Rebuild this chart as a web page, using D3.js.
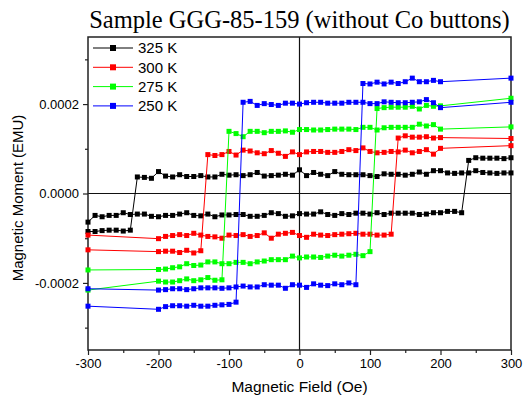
<!DOCTYPE html>
<html lang="en">
<head>
<meta charset="UTF-8">
<title>GGG-85-159 hysteresis</title>
<script src="https://cdn.jsdelivr.net/npm/d3@7"></script>
<style>
  body { margin: 0; background: #fff; }
  svg { display: block; font-family: "Liberation Sans", Arial, sans-serif; }
</style>
</head>
<body>
<script>
// field sweeps (Oe); 325 K was swept in 10 Oe steps over the full range
const fieldsFull = [-300, -290, -280, -270, -260, -250, -240, -230, -220, -210,
  -200, -190, -180, -170, -160, -150, -140, -130, -120, -110,
  -100, -90, -80, -70, -60, -50, -40, -30, -20, -10,
  0, 10, 20, 30, 40, 50, 60, 70, 80, 90,
  100, 110, 120, 130, 140, 150, 160, 170, 180, 190,
  200, 210, 220, 230, 240, 250, 260, 270, 280, 290, 300];
const fieldsSparse = [-300,
  -200, -190, -180, -170, -160, -150, -140, -130, -120, -110,
  -100, -90, -80, -70, -60, -50, -40, -30, -20, -10,
  0, 10, 20, 30, 40, 50, 60, 70, 80, 90,
  100, 110, 120, 130, 140, 150, 160, 170, 180, 190,
  200, 300];

// moments in micro-EMU, listed in increasing field order
// "Down" = branch swept from +300 to -300, "Up" = from -300 to +300
const m325Down = [-85, -85, -83, -82, -82, -84, -82, 37, 36, 34,
  49, 39, 37, 42, 38, 38, 40, 37, 37, 43,
  41, 42, 40, 42, 47, 39, 40, 41, 43, 41,
  53, 40, 47, 43, 40, 49, 43, 42, 42, 42,
  40, 38, 44, 43, 43, 41, 43, 48, 43, 51,
  51, 46, 45, 46, 46, 51, 47, 46, 45, 46, 46];
const m325Up = [-64, -49, -52, -49, -49, -43, -47, -46, -46, -51,
  -52, -49, -49, -46, -43, -49, -50, -46, -52, -48,
  -48, -47, -47, -51, -51, -49, -43, -45, -51, -50,
  -45, -46, -46, -41, -47, -49, -45, -47, -44, -44,
  -46, -43, -47, -44, -44, -44, -44, -47, -46, -43,
  -43, -40, -40, -43, 74, 80, 79, 79, 79, 78, 80];

const m300Down = [-126,
  -130, -129, -129, -132, -127, -133, -128, 87, 85, 87,
  94, 86, 97, 95, 91, 89, 96, 90, 83, 93,
  87, 93, 94, 94, 92, 92, 94, 98, 96, 102,
  94, 91, 92, 94, 93, 97, 91, 94, 98, 88,
  101, 107];
const m300Up = [-93,
  -101, -96, -94, -92, -94, -89, -93, -96, -97, -100,
  -93, -94, -92, -96, -94, -88, -100, -91, -89, -87,
  -94, -98, -91, -93, -94, -92, -91, -90, -89, -91,
  -91, -93, -93, -91, 124, 129, 126, 126, 127, 124,
  125, 123];

const m275Down = [-216,
  -196, -198, -198, -195, -191, -195, -193, -188, -194, -193,
  139, 134, 127, 139, 139, 136, 139, 139, 140, 137,
  143, 143, 142, 142, 143, 144, 144, 144, 143, 148,
  148, 142, 147, 148, 148, 148, 148, 155, 151, 154,
  144, 149];
const m275Up = [-171,
  -170, -169, -166, -164, -157, -161, -160, -153, -153, -157,
  -157, -154, -154, -157, -153, -151, -148, -148, -148, -140,
  -144, -142, -142, -143, -140, -138, -140, -138, -136, -139,
  -130, 190, 192, 193, 193, 193, 195, 189, 197, 195,
  196, 213];

const m250Down = [-252,
  -259, -253, -251, -251, -252, -250, -252, -252, -250, -249,
  -248, -243, 204, 206, 197, 201, 199, 197, 202, 202,
  200, 203, 204, 204, 202, 202, 202, 204, 204, 204,
  201, 201, 205, 204, 203, 203, 204, 205, 210, 203,
  192, 204];
const m250Up = [-213,
  -216, -215, -213, -213, -215, -213, -211, -211, -211, -212,
  -211, -209, -207, -209, -209, -204, -205, -205, -212, -204,
  -205, -210, -202, -205, -206, -202, -204, -200, -204, 246,
  245, 249, 245, 249, 246, 250, 258, 250, 250, 253,
  250, 258];

const seriesNames = ["325 K", "300 K", "275 K", "250 K"];
const seriesColors = ["#000000", "#ff0000", "#00ff00", "#0000ff"];

const xTicks = [-300, -200, -100, 0, 100, 200, 300];
const xMinorTicks = [-250, -150, -50, 50, 150, 250];
const yTicks = [-0.0002, 0, 0.0002];
const yMinorTicks = [-0.0003, -0.0001, 0.0001, 0.0003];

const width = 529, height = 405;
const margin = { left: 88, right: 511, top: 37, bottom: 350 };

const loops = [
  [[fieldsFull, m325Down], [fieldsFull, m325Up]],
  [[fieldsSparse, m300Down], [fieldsSparse, m300Up]],
  [[fieldsSparse, m275Down], [fieldsSparse, m275Up]],
  [[fieldsSparse, m250Down], [fieldsSparse, m250Up]]
];

// plain hyphen minus like the original
const fmt = d3.formatLocale({ decimal: ".", thousands: ",", grouping: [3], currency: ["", ""], minus: "-" });

const x = d3.scaleLinear().domain([-300, 300]).range([margin.left, margin.right]);
const y = d3.scaleLinear().domain([-0.00035, 0.00035]).range([margin.bottom, margin.top]);

const svg = d3.select("body").append("svg")
  .attr("width", width)
  .attr("height", height);

// axes, outward ticks
svg.append("g")
  .attr("transform", "translate(0," + margin.bottom + ")")
  .call(d3.axisBottom(x).tickValues(xTicks).tickSize(5).tickSizeOuter(0).tickPadding(4).tickFormat(fmt.format("d")));
svg.append("g")
  .attr("transform", "translate(0," + margin.bottom + ")")
  .call(d3.axisBottom(x).tickValues(xMinorTicks).tickSize(3).tickSizeOuter(0).tickFormat(""));
svg.append("g")
  .attr("transform", "translate(" + margin.left + ",0)")
  .call(d3.axisLeft(y).tickValues(yTicks).tickSize(5).tickSizeOuter(0).tickPadding(4).tickFormat(fmt.format(".4f")));
svg.append("g")
  .attr("transform", "translate(" + margin.left + ",0)")
  .call(d3.axisLeft(y).tickValues(yMinorTicks).tickSize(3).tickSizeOuter(0).tickFormat(""));

svg.selectAll(".domain").remove();
svg.selectAll(".tick line").attr("stroke", "#222").attr("stroke-width", 1.2);
svg.selectAll(".tick text")
  .attr("fill", "#000")
  .style("font-size", "13px")
  .style("font-family", "'Liberation Sans', Arial, sans-serif");

// zero lines
svg.append("line")
  .attr("x1", margin.left).attr("x2", margin.right)
  .attr("y1", y(0)).attr("y2", y(0))
  .attr("stroke", "#111").attr("stroke-width", 1.2);
svg.append("line")
  .attr("x1", x(0)).attr("x2", x(0))
  .attr("y1", margin.top).attr("y2", margin.bottom)
  .attr("stroke", "#111").attr("stroke-width", 1.2);

// frame
svg.append("rect")
  .attr("x", margin.left).attr("y", margin.top)
  .attr("width", margin.right - margin.left).attr("height", margin.bottom - margin.top)
  .attr("fill", "none")
  .attr("stroke", "#222")
  .attr("stroke-width", 1.5);

const line = d3.line()
  .x(d => x(d[0]))
  .y(d => y(d[1] * 1e-6));

const plot = svg.append("g");
loops.forEach((branches, i) => {
  const g = plot.append("g");
  branches.forEach(([fields, moments]) => {
    const pts = fields.map((f, k) => [f, moments[k]]);
    g.append("path")
      .attr("d", line(pts))
      .attr("fill", "none")
      .attr("stroke", seriesColors[i])
      .attr("stroke-width", 1);
    g.selectAll(null)
      .data(pts)
      .enter().append("rect")
      .attr("x", d => x(d[0]) - 2.5)
      .attr("y", d => y(d[1] * 1e-6) - 2.5)
      .attr("width", 5)
      .attr("height", 5)
      .attr("fill", seriesColors[i]);
  });
});

// legend
const legend = svg.append("g");
seriesNames.forEach((name, i) => {
  const ly = 48 + i * 19.3;
  legend.append("line")
    .attr("x1", 93).attr("x2", 133)
    .attr("y1", ly).attr("y2", ly)
    .attr("stroke", seriesColors[i]).attr("stroke-width", 1);
  legend.append("rect")
    .attr("x", 110).attr("y", ly - 3)
    .attr("width", 6).attr("height", 6)
    .attr("fill", seriesColors[i]);
  legend.append("text")
    .attr("x", 138).attr("y", ly)
    .attr("dy", "0.36em")
    .style("font-size", "15px")
    .text(name);
});

// titles
svg.append("text")
  .attr("x", (margin.left + margin.right) / 2).attr("y", 28)
  .attr("text-anchor", "middle")
  .style("font-family", "'Liberation Serif', 'Times New Roman', serif")
  .style("font-size", "24.5px")
  .text("Sample GGG-85-159 (without Co buttons)");

svg.append("text")
  .attr("x", (margin.left + margin.right) / 2).attr("y", 392)
  .attr("text-anchor", "middle")
  .style("font-size", "15.5px")
  .text("Magnetic Field (Oe)");

svg.append("text")
  .attr("transform", "translate(23," + 198 + ") rotate(-90)")
  .attr("text-anchor", "middle")
  .style("font-size", "15px")
  .text("Magnetic Moment (EMU)");
</script>
</body>
</html>
